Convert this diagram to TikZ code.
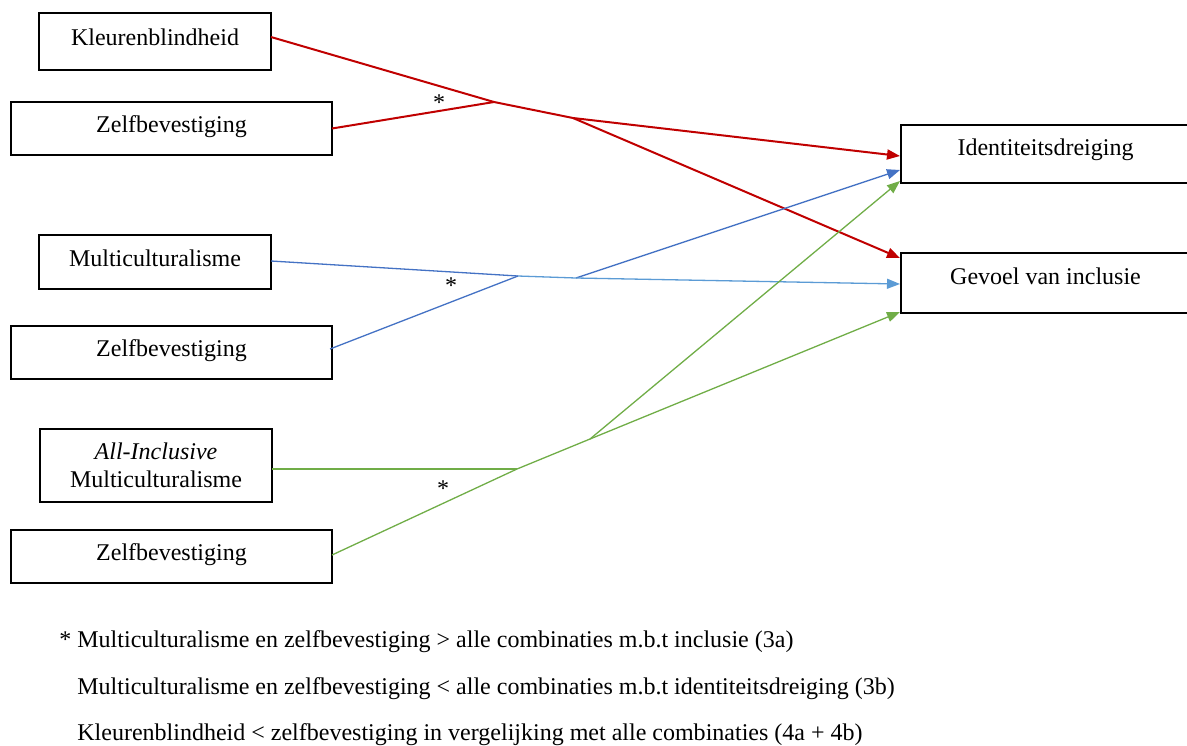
\documentclass[tikz,border=0pt]{standalone}
\usepackage{fontspec}
\setmainfont{Liberation Serif}
\usetikzlibrary{arrows.meta,calc}
\definecolor{cred}{HTML}{C00000}
\definecolor{cblue}{HTML}{4472C4}
\definecolor{clblue}{HTML}{5B9BD5}
\definecolor{cgreen}{HTML}{70AD47}
\tikzset{
  txt/.style={font=\fontsize{12pt}{14.5pt}\selectfont},
  plainbox/.style={txt, draw=black, line width=1pt, outer sep=0pt, inner sep=0pt, align=center},
  lbox/.style={plainbox, text height=0.7em, text depth=0.3em},
  rbox/.style={plainbox, text height=0.6em, text depth=0.45em},
  tip/.style={-{Triangle[length=6.5pt,width=5pt]}},
  redl/.style={draw=cred, line width=1pt},
  bluel/.style={draw=cblue, line width=0.65pt},
  lbluel/.style={draw=clblue, line width=0.65pt},
  greenl/.style={draw=cgreen, line width=0.65pt},
  star/.style={txt, inner sep=0pt, anchor=base},
  foot/.style={txt, inner sep=0pt, anchor=base west}
}
\begin{document}
\begin{tikzpicture}[x=0.5pt,y=-0.5pt]
\useasboundingbox (0,0) rectangle (1187,745);
% left boxes
\node[lbox, minimum width=116pt, minimum height=28.5pt] (k1) at (155,41.5) {Kleurenblindheid};
\node[lbox, minimum width=160.5pt, minimum height=26.5pt] (z1) at (171.5,128.5) {Zelfbevestiging};
\node[lbox, minimum width=116pt, minimum height=27pt] (m1) at (155,262) {Multiculturalisme};
\node[lbox, minimum width=160.5pt, minimum height=26.5pt] (z2) at (171.5,352.5) {Zelfbevestiging};
\node[plainbox, minimum width=116pt, minimum height=36.5pt] (a1) at (156,465.5) {\textit{All-Inclusive}\\[-0.5pt]Multiculturalisme};
\node[lbox, minimum width=160.5pt, minimum height=26.5pt] (z3) at (171.5,556.5) {Zelfbevestiging};
% right boxes
\node[rbox, minimum width=144.5pt, minimum height=29pt] (id) at (1045.5,154) {Identiteitsdreiging};
\node[rbox, minimum width=144.5pt, minimum height=30pt] (gv) at (1045.5,283) {Gevoel van inclusie};
% junctions
\coordinate (r1) at (494,102);
\coordinate (r2) at (573,118);
\coordinate (b1) at (518,276);
\coordinate (b2) at (576,278);
\coordinate (g1) at (517,469);
\coordinate (g2) at (590,439);
% red
\draw[redl] ($(k1.east)+(0,-4.5)$) -- (r1);
\draw[redl] (z1.east) -- (r1) -- (r2);
\draw[redl, tip] (r2) -- ($(id.west)+(-1,2)$);
\draw[redl, tip] (r2) -- ($(gv.north west)+(-1,5)$);
% blue
\draw[bluel] ($(m1.east)+(0,-1)$) -- (b1);
\draw[bluel] ($(z2.east)+(-2,-3.5)$) -- (b1);
\draw[lbluel] (b1) -- (b2);
\draw[bluel, tip] (b2) -- ($(id.west)+(-1,16)$);
\draw[lbluel, tip] (b2) -- ($(gv.west)+(-1,1)$);
% green
\draw[greenl] ($(a1.east)+(0,3.5)$) -- (g1);
\draw[greenl] ($(z3.east)+(0,-1.5)$) -- (g1) -- (g2);
\draw[greenl, tip] (g2) -- ($(id.south west)+(-1,-2)$);
\draw[greenl, tip] (g2) -- ($(gv.south west)+(-1,-1)$);
% stars
\node[star] (s1) at (439,110) {*};
\node[star] (s2) at (451,293) {*};
\node[star] (s3) at (443,496) {*};
% footnote
\node[foot] (f1) at (59,647) {* Multiculturalisme en zelfbevestiging > alle combinaties m.b.t inclusie (3a)};
\node[foot] (f2) at (77,694) {Multiculturalisme en zelfbevestiging < alle combinaties m.b.t identiteitsdreiging (3b)};
\node[foot] (f3) at (77,740) {Kleurenblindheid < zelfbevestiging in vergelijking met alle combinaties (4a + 4b)};
\end{tikzpicture}
\end{document}
